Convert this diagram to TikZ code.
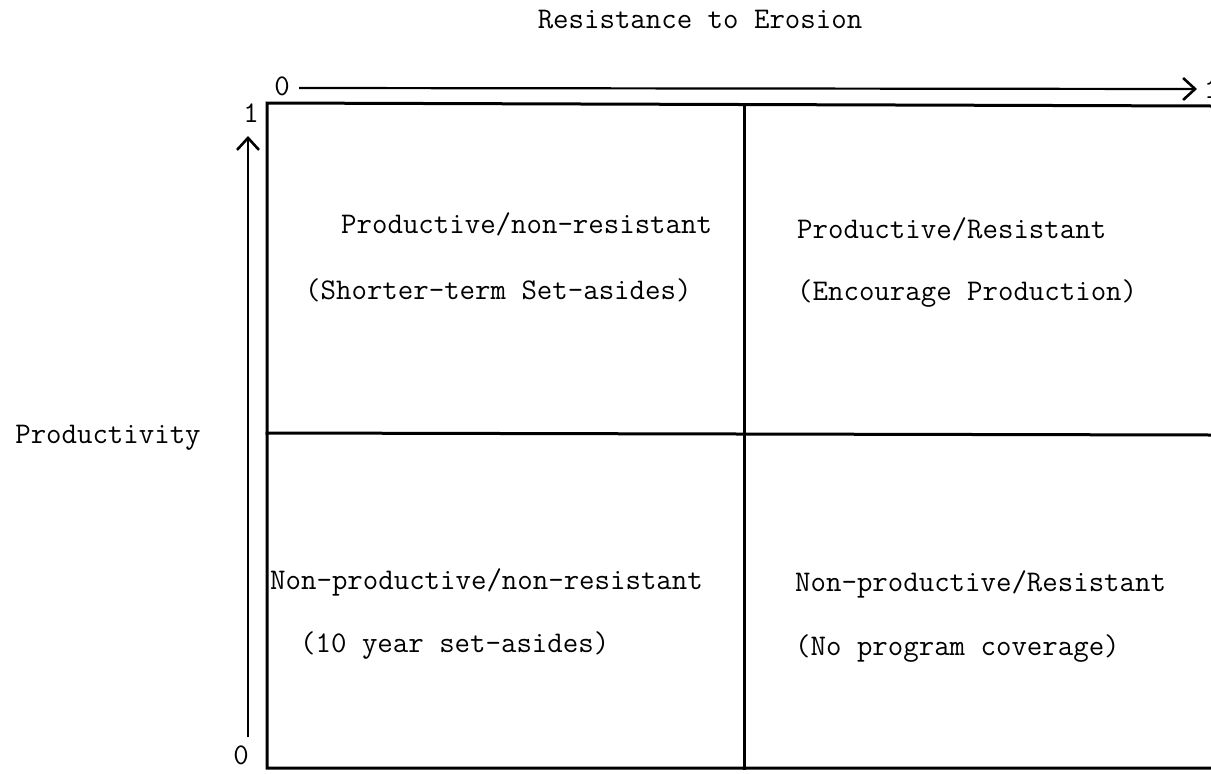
\documentclass[tikz,border=0pt]{standalone}
\usepackage{fontspec}
\usetikzlibrary{arrows.meta,positioning}

\begin{document}
\begin{tikzpicture}[
  x=1pt, y=-1pt,
  font=\ttfamily\fontsize{30}{35}\selectfont,
  txt/.style={anchor=west, inner sep=0pt},
  tick/.style={inner sep=0pt},
  frame/.style={line width=3pt, line cap=rect},
  axis/.style={line width=2.2pt, -{Straight Barb[length=12pt, width=22pt, line width=2.6pt]}}
]
\useasboundingbox (0,0) rectangle (1211,774);

% axis labels
\node[tick] (title) at (700,20) {Resistance to Erosion};
\node[tick] (prod) at (108,438) {Productivity};

% top axis
\node[tick] (x0) at (282,86) {0};
\node[tick, anchor=west] (x1) at (1204,89) {1};
\coordinate (xs) at (299,88);
\coordinate (xe) at (1197,89);
\draw[axis] (xs) -- (xe);

% left axis
\node[tick] (y1) at (251,113) {1};
\node[tick] (y0) at (241,755) {0};
\coordinate (ys) at (248,737);
\coordinate (ye) at (248,136);
\draw[axis] (ys) -- (ye);

% frame
\coordinate (tl) at (267,103);
\coordinate (tr) at (1211,106);
\coordinate (bl) at (267,768);
\coordinate (br) at (1211,768);
\coordinate (mt) at (744,104);
\coordinate (mb) at (744,768);
\coordinate (ml) at (267,433);
\coordinate (mr) at (1211,435);
\draw[frame] (tr) -- (tl) -- (bl) -- (br);
\draw[frame] (mt) -- (mb);
\draw[frame] (ml) -- (mr);

% cells
\node[txt] (pn) at (341,224) {Productive/non-resistant};
\node[txt] (pnp) at (305,290) {(Shorter-term Set-asides)};
\node[txt] (pr) at (797,229) {Productive/Resistant};
\node[txt] (prp) at (797,294) {(Encourage Production)};
\node[txt] (nn) at (270,582) {Non-productive/non-resistant};
\node[txt] (nnp) at (300,646) {(10 year set-asides)};
\node[txt] (nr) at (795,584) {Non-productive/Resistant};
\node[txt] (nrp) at (795,649) {(No program coverage)};

\end{tikzpicture}
\end{document}
